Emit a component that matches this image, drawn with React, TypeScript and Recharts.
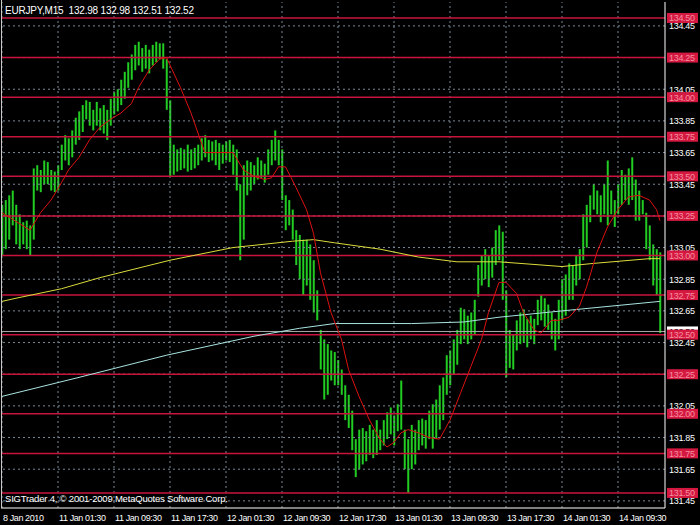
import { ComposedChart, Bar, Line, XAxis, YAxis, ReferenceLine } from 'recharts';

const SYMBOL = 'EURJPY,M15';
const OHLC = ['132.98', '132.98', '132.51', '132.52'];
const BID = 132.52;
const COPYRIGHT = 'SIGTrader 4, © 2001-2009 MetaQuotes Software Corp.';

// one bar = 30 min (two M15 candles), high / low
const HIGH = [
  133.32, 133.35, 133.38, 133.41, 133.32, 133.26, 133.21, 133.22, 133.19, 133.55,
  133.57, 133.54, 133.6, 133.59, 133.54, 133.53, 133.57, 133.7, 133.76, 133.74,
  133.79, 133.87, 133.91, 133.95, 133.98, 133.97, 133.92, 133.97, 133.93, 133.95,
  133.92, 133.99, 134.03, 134.05, 134.11, 134.16, 134.22, 134.27, 134.33, 134.35,
  134.31, 134.33, 134.3, 134.33, 134.35, 134.34, 134.34, 134.24, 133.98, 133.7,
  133.67, 133.68, 133.67, 133.7, 133.67, 133.68, 133.7, 133.74, 133.76, 133.73,
  133.72, 133.73, 133.71, 133.7, 133.72, 133.73, 133.7, 133.67, 133.45, 133.57,
  133.6, 133.59, 133.57, 133.62, 133.6, 133.58, 133.67, 133.73, 133.79, 133.73,
  133.67, 133.38, 133.35, 133.29, 133.16, 133.13, 133.1, 133.1, 133.07, 132.97,
  132.78, 132.53, 132.47, 132.44, 132.4, 132.39, 132.34, 132.28, 132.18, 132.12,
  132.02, 131.84, 131.9, 131.91, 131.89, 131.93, 131.9, 131.96, 131.9, 131.96,
  132.01, 132.04, 131.99, 132.06, 132.21, 131.9, 131.84, 131.93, 131.9, 131.96,
  131.97, 131.96, 132.02, 132.06, 132.09, 132.18, 132.23, 132.37, 132.4, 132.47,
  132.53, 132.67, 132.66, 132.62, 132.64, 132.72, 132.94, 133.0, 133.04, 133.0,
  133.05, 133.16, 133.19, 133.15, 132.78, 132.53, 132.5, 132.59, 132.64, 132.66,
  132.6, 132.62, 132.6, 132.72, 132.75, 132.73, 132.69, 132.64, 132.6, 132.72,
  132.85, 132.88, 132.95, 132.94, 133.0, 133.04, 133.26, 133.32, 133.38, 133.45,
  133.41, 133.38, 133.45, 133.6, 133.41, 133.35, 133.45, 133.54, 133.51, 133.55,
  133.62, 133.48, 133.41, 133.35, 133.27, 133.19, 133.07, 133.04, 133.02,
];
const LOW = [
  133.0, 133.04, 133.1, 133.19, 133.07, 133.04, 133.07, 133.04, 133.0, 133.1,
  133.41, 133.4, 133.45, 133.45, 133.41, 133.4, 133.41, 133.54, 133.6, 133.57,
  133.62, 133.7, 133.73, 133.78, 133.86, 133.82, 133.79, 133.82, 133.79, 133.77,
  133.73, 133.82, 133.89, 133.91, 133.95, 133.99, 134.06, 134.11, 134.17, 134.2,
  134.16, 134.18, 134.15, 134.2, 134.22, 134.24, 134.18, 133.92, 133.5, 133.51,
  133.53, 133.54, 133.55, 133.53, 133.54, 133.55, 133.57, 133.6, 133.62, 133.59,
  133.6, 133.57, 133.54, 133.58, 133.6, 133.59, 133.51, 133.41, 132.97, 133.1,
  133.38, 133.41, 133.45, 133.48, 133.49, 133.46, 133.51, 133.57, 133.6, 133.57,
  133.35, 133.16, 133.19, 133.1, 132.94, 132.85, 132.75, 132.81, 132.72, 132.64,
  132.59, 132.28, 132.09, 132.12, 132.21, 132.18, 132.18, 132.12, 131.96, 131.91,
  131.77, 131.6, 131.65, 131.68, 131.7, 131.74, 131.72, 131.74, 131.77, 131.8,
  131.84, 131.87, 131.8, 131.89, 131.9, 131.65, 131.5, 131.65, 131.68, 131.77,
  131.8, 131.78, 131.84, 131.78, 131.84, 131.9, 131.96, 132.12, 132.18, 132.25,
  132.31, 132.44, 132.47, 132.44, 132.47, 132.5, 132.74, 132.81, 132.85, 132.8,
  132.86, 132.94, 132.97, 132.72, 132.23, 132.29, 132.28, 132.4, 132.44, 132.45,
  132.42, 132.47, 132.44, 132.56, 132.59, 132.55, 132.53, 132.47, 132.4, 132.47,
  132.59, 132.62, 132.72, 132.72, 132.81, 132.85, 132.97, 133.05, 133.21, 133.29,
  133.26, 133.21, 133.26, 133.19, 133.26, 133.18, 133.26, 133.32, 133.35, 133.32,
  133.35, 133.22, 133.22, 133.26, 133.04, 132.97, 132.81, 132.75, 132.51,
];

// moving averages, [bar index, value]
const RED_MA = [
  [0, 133.27], [8, 133.16], [11, 133.27], [14, 133.35], [17, 133.46], [19, 133.54],
  [22, 133.62], [25, 133.73], [28, 133.81], [31, 133.86], [34, 133.9], [37, 133.96],
  [39, 134.06], [42, 134.17], [45, 134.24], [47, 134.25], [51, 134.06], [54, 133.9],
  [57, 133.71], [58, 133.65], [61, 133.65], [66, 133.65], [69, 133.54], [72, 133.5],
  [75, 133.48], [77, 133.49], [79, 133.56], [81, 133.56], [84, 133.43], [87, 133.29],
  [89, 133.14], [91, 132.89], [94, 132.64], [97, 132.47], [99, 132.28], [102, 132.11],
  [105, 131.96], [108, 131.84], [110, 131.79], [112, 131.82], [114, 131.88], [116, 131.9],
  [119, 131.88], [122, 131.85], [125, 131.84], [128, 131.96], [131, 132.13], [134, 132.3],
  [137, 132.47], [139, 132.64], [142, 132.83], [144, 132.83], [147, 132.76], [149, 132.64],
  [152, 132.53], [154, 132.51], [157, 132.59], [159, 132.59], [162, 132.61], [165, 132.68],
  [167, 132.8], [170, 133.02], [173, 133.18], [176, 133.29], [179, 133.37], [182, 133.38],
  [185, 133.35], [187, 133.29], [188, 133.22],
];
const YELLOW_MA = [
  [0, 132.71], [4, 132.73], [17, 132.79], [28, 132.86], [48, 132.97], [66, 133.05],
  [83, 133.09], [89, 133.1], [95, 133.08], [108, 133.04], [119, 132.99], [130, 132.96],
  [142, 132.96], [160, 132.93], [169, 132.95], [185, 132.98], [188, 132.98],
];
const CYAN_MA = [
  [0, 132.11], [22, 132.23], [47, 132.37], [72, 132.49], [85, 132.54], [95, 132.57],
  [117, 132.57], [132, 132.58], [142, 132.61], [160, 132.65], [174, 132.68], [188, 132.71],
];

const TIME_TICKS = [0, 16, 32, 48, 64, 80, 96, 112, 128, 144, 160, 176];
const TIME_LABELS = [
  '8 Jan 2010', '11 Jan 01:30', '11 Jan 09:30', '11 Jan 17:30', '12 Jan 01:30', '12 Jan 09:30',
  '12 Jan 17:30', '13 Jan 01:30', '13 Jan 09:30', '13 Jan 17:30', '14 Jan 01:30', '14 Jan 09:30',
];

const GRID_LEVELS = [
  131.45, 131.65, 131.85, 132.05, 132.25, 132.45, 132.65, 132.85,
  133.05, 133.25, 133.45, 133.65, 133.85, 134.05, 134.25, 134.45,
];
const LINE_LEVELS = [
  131.5, 131.75, 132.0, 132.25, 132.5, 132.75, 133.0, 133.25,
  133.5, 133.75, 134.0, 134.25, 134.5,
];

const FONT = '"Liberation Sans", Arial, sans-serif';
const LINE_RED = '#c8143c';
const AXIS_X = 665;

const bars = HIGH.map((h, i) => ({ i, range: [LOW[i], h] }));
const pts = (a: number[][]) => a.map(([i, v]) => ({ i, v }));
const same = (a: number, b: number) => Math.abs(a - b) < 1e-6;

const yTicks = [
  ...GRID_LEVELS.filter((g) => !LINE_LEVELS.some((l) => same(l, g))),
  BID,
  ...LINE_LEVELS,
];

function PriceTick({ y, payload }: any) {
  const v = payload.value;
  const txt = v.toFixed(2);
  if (LINE_LEVELS.some((l) => same(l, v))) {
    return (
      <g>
        <rect x={AXIS_X + 2} y={y - 5} width={31} height={10} fill="#d41840" />
        <text x={AXIS_X + 4} y={y + 3.5} fill="#f590a0" fontSize={9} fontFamily={FONT} letterSpacing={-0.3}>
          {txt}
        </text>
      </g>
    );
  }
  if (same(v, BID)) {
    return (
      <g>
        <rect x={AXIS_X + 2} y={y - 5} width={31} height={10} fill="#ffffff" />
        <text x={AXIS_X + 4} y={y + 3.5} fill="#000" fontSize={9} fontFamily={FONT} letterSpacing={-0.3}>
          {txt}
        </text>
      </g>
    );
  }
  return (
    <text x={AXIS_X + 4} y={y + 3.5} fill="#fff" fontSize={9} fontFamily={FONT} letterSpacing={-0.3}>
      {txt}
    </text>
  );
}

function TimeTick({ x, payload }: any) {
  const idx = TIME_TICKS.indexOf(payload.value);
  return (
    <text x={x + 1} y={521} fill="#fff" fontSize={9} fontFamily={FONT} letterSpacing={-0.4}>
      {TIME_LABELS[idx]}
    </text>
  );
}

export default function App() {
  return (
    <div style={{ position: 'absolute', left: 0, top: 0, width: 700, height: 525, background: '#000', overflow: 'hidden' }}>
      <ComposedChart
        width={700}
        height={525}
        data={bars}
        margin={{ top: 2, right: 0, bottom: 0, left: 1 }}
      >
        <XAxis
          type="number"
          dataKey="i"
          domain={[-0.286, 189.43]}
          allowDataOverflow
          ticks={TIME_TICKS}
          interval={0}
          tick={<TimeTick />}
          tickLine={false}
          axisLine={{ stroke: '#ffffff' }}
          height={17}
        />
        <YAxis
          orientation="right"
          type="number"
          domain={[131.405, 134.601]}
          allowDataOverflow
          ticks={yTicks}
          interval={0}
          tick={<PriceTick />}
          tickLine={false}
          axisLine={{ stroke: '#ffffff' }}
          width={35}
        />
        {GRID_LEVELS.map((g) => (
          <ReferenceLine key={'g' + g} y={g} stroke="#7a8896" strokeDasharray="2 3" />
        ))}
        {TIME_TICKS.map((t) => (
          <ReferenceLine key={'v' + t} x={t} stroke="#7a8896" strokeDasharray="2 3" />
        ))}
        <Bar dataKey="range" fill="#22cc22" barSize={2} isAnimationActive={false} />
        {LINE_LEVELS.map((l) => (
          <ReferenceLine key={'l' + l} y={l} stroke={LINE_RED} strokeWidth={1.5} />
        ))}
        <ReferenceLine y={BID} stroke="#a8a8a8" />
        <Line data={pts(CYAN_MA)} dataKey="v" stroke="#a8e4e0" strokeWidth={1} dot={false} isAnimationActive={false} />
        <Line data={pts(YELLOW_MA)} dataKey="v" stroke="#dcdc3c" strokeWidth={1} dot={false} isAnimationActive={false} />
        <Line data={pts(RED_MA)} dataKey="v" stroke="#dd1111" strokeWidth={1} dot={false} isAnimationActive={false} />
      </ComposedChart>
      <div style={{ position: 'absolute', left: 1, top: 0, width: 1, height: 508, background: '#c8c8c8' }} />
      <div style={{ position: 'absolute', left: 5, top: 5, color: '#fff', fontFamily: FONT, fontSize: 10, letterSpacing: -0.2, whiteSpace: 'pre' }}>
        {SYMBOL + '  ' + OHLC.join(' ')}
      </div>
      <div style={{ position: 'absolute', left: 5, top: 493, color: '#fff', fontFamily: FONT, fontSize: 9.5, letterSpacing: -0.2, whiteSpace: 'pre' }}>
        {COPYRIGHT}
      </div>
    </div>
  );
}
